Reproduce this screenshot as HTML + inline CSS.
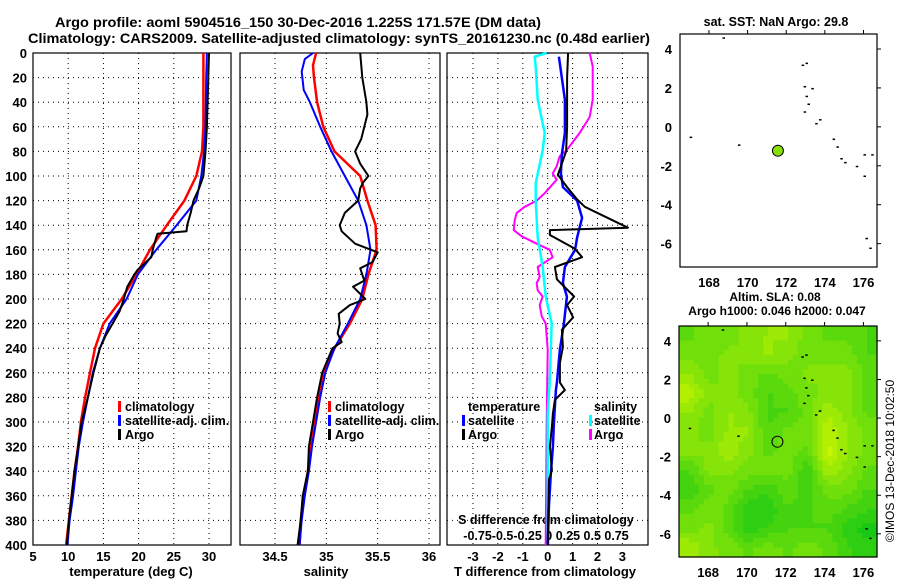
<!DOCTYPE html>
<html><head><meta charset="utf-8"><style>
html,body{margin:0;padding:0;background:#fff;}
svg{display:block;font-family:"Liberation Sans",sans-serif;font-weight:bold;}
</style></head><body>
<svg id="fig" width="900" height="580" viewBox="0 0 900 580" xmlns="http://www.w3.org/2000/svg">
<rect width="900" height="580" fill="#fff"/>
<text x="298" y="27" font-size="14" text-anchor="middle" textLength="486" lengthAdjust="spacingAndGlyphs">Argo profile: aoml 5904516_150 30-Dec-2016 1.225S 171.57E (DM data)</text>
<text x="339" y="43" font-size="14" text-anchor="middle" textLength="622" lengthAdjust="spacingAndGlyphs">Climatology: CARS2009. Satellite-adjusted climatology: synTS_20161230.nc (0.48d earlier)</text>
<g id="g1"></g>
<g id="g2"></g>
<g id="g3"></g>
<g id="m1"></g>
<g id="m2"></g>
<text x="776" y="26" font-size="12.5" text-anchor="middle">sat. SST: NaN Argo: 29.8</text>
<text x="775" y="301" font-size="12" text-anchor="middle">Altim. SLA: 0.08</text>
<text x="777" y="315" font-size="12" text-anchor="middle">Argo h1000: 0.046 h2000: 0.047</text>
<text transform="translate(894,461) rotate(-90)" font-size="12" font-weight="normal" text-anchor="middle">©IMOS 13-Dec-2018 10:02:50</text>
</svg>
<script>
// ---------- data ----------
const depthT = [0,20,60,80,100,110,120,130,140,145,147,150,160,166,176,180,190,200,210,220,230,240,260,280,300,320,340,360,380,400];
const argoT  = [30.0,29.9,29.7,29.5,29.2,28.6,27.8,27.4,26.9,26.8,22.7,22.5,22.0,21.8,19.9,19.4,18.4,17.9,17.3,16.3,15.3,14.5,13.6,12.8,11.9,11.4,10.9,10.5,10.1,9.8];
const depthC = [0,20,60,80,100,120,140,160,180,200,220,240,260,280,300,320,340,360,380,400];
const climT  = [29.2,29.2,29.2,29.0,28.2,26.5,24.0,21.6,19.7,17.6,15.0,13.8,13.1,12.4,11.8,11.4,10.9,10.5,10.1,9.7];
const satT   = [29.7,29.6,29.5,29.3,28.9,28.2,25.4,22.5,19.9,18.3,15.9,14.5,13.5,12.8,12.1,11.5,11.1,10.7,10.2,9.9];

const depthAS = [0,20,40,50,60,70,80,90,100,105,110,120,130,140,145,155,162,170,175,185,190,200,205,212,220,228,235,240,260,280,300,320,340,360,380,400];
const argoS   = [35.33,35.35,35.39,35.40,35.37,35.34,35.28,35.33,35.41,35.36,35.33,35.31,35.18,35.13,35.15,35.28,35.50,35.45,35.33,35.37,35.26,35.38,35.23,35.12,35.13,35.11,35.15,35.06,34.96,34.91,34.87,34.83,34.82,34.77,34.75,34.72];
const depthCS = [0,10,20,40,60,80,100,120,140,160,180,200,220,240,260,280,300,320,340,360,380,400];
const climS   = [34.90,34.87,34.88,34.91,34.97,35.08,35.33,35.40,35.48,35.49,35.41,35.35,35.23,35.08,34.97,34.92,34.89,34.85,34.82,34.78,34.75,34.74];
const depthSS = [0,5,15,30,40,60,80,100,120,140,160,180,200,220,240,260,280,300,320,340,360,380,400];
const satS    = [34.87,34.79,34.76,34.78,34.84,34.94,35.05,35.18,35.31,35.39,35.43,35.39,35.33,35.21,35.08,34.99,34.94,34.90,34.86,34.83,34.79,34.76,34.74];

const depthDT = [0,20,60,80,99,109,119,125,142,144,148,159,166,174,184,198,205,215,225,239,252,268,274,282,293,304,320,339,347,400];
const argoDT  = [0.82,0.78,0.78,0.74,0.41,0.78,1.18,1.49,3.22,0.09,0.09,1.09,1.38,0.29,0.37,1.06,0.78,1.02,0.57,0.61,0.49,0.49,0.69,0.29,0.21,0.17,0.09,0.17,0.05,0.0];
const depthST = [3,38,65,82,98,109,120,134,150,160,174,187,198,220,241,268,274,301,320,341,369,400];
const satDT   = [0.45,0.69,0.69,0.57,0.53,0.61,1.18,1.38,1.18,1.10,0.69,0.61,0.77,0.65,0.49,0.37,0.33,0.25,0.21,0.13,0.05,0.01];
const depthCY = [0,3,11,38,65,79,106,120,150,174,198,220,268,293,400];
const satDS   = [-0.01,-0.13,-0.12,-0.10,-0.03,-0.05,-0.12,-0.12,-0.10,-0.05,-0.02,0.04,0.02,0.0,0.0];
const depthMS = [0,11,38,52,65,79,84,92,98,103,114,120,125,130,136,144,149,155,160,166,174,182,187,193,198,205,214,220,241,300,400];
const argoDS  = [0.42,0.45,0.45,0.42,0.32,0.19,0.12,0.09,0.05,0.09,-0.03,-0.11,-0.23,-0.31,-0.33,-0.34,-0.26,-0.11,0.02,0.05,-0.10,-0.08,-0.11,-0.10,-0.05,-0.08,-0.06,-0.02,0.0,-0.01,-0.02];

const mapLat = -1.225, mapLon = 171.57;
const slaGrid = [
 [0.4,0.5,0.5,0.6,0.7,0.7,0.5,0.4,0.4,0.3],
 [0.5,0.5,0.6,0.6,0.7,0.6,0.5,0.5,0.5,0.3],
 [0.7,0.5,0.6,0.5,0.4,0.5,0.6,0.6,0.6,0.4],
 [0.9,0.6,0.6,0.5,0.3,0.4,0.5,0.6,0.6,0.4],
 [0.7,0.5,0.7,0.6,0.3,0.3,0.5,0.8,0.6,0.4],
 [0.6,0.5,0.7,0.7,0.3,0.5,0.5,0.9,0.7,0.5],
 [0.6,0.6,0.8,0.6,0.4,0.5,0.4,1.0,0.7,0.5],
 [0.3,0.6,0.6,0.5,0.5,0.5,0.2,0.8,0.6,0.4],
 [0.2,0.4,0.5,0.3,0.2,0.4,0.2,0.5,0.5,0.3],
 [0.4,0.5,0.4,0.1,0.1,0.3,0.3,0.4,0.3,0.2],
 [0.5,0.6,0.4,0.1,0.2,0.3,0.3,0.3,0.1,0.0],
 [0.8,0.6,0.5,0.4,0.5,0.4,0.5,0.4,0.2,0.1]];
const depthTicks = [0,20,40,60,80,100,120,140,160,180,200,220,240,260,280,300,320,340,360,380,400];
const tTicks = [5,10,15,20,25,30];
const sTicks = [34.5,35,35.5,36];
const dTTicks = [-3,-2,-1,0,1,2,3];
const lonTicks = [168,170,172,174,176];
const latTicks = [4,2,0,-2,-4,-6];

// ---------- helpers ----------
const NS="http://www.w3.org/2000/svg";
function mk(parent,tag,attrs,txt){const e=document.createElementNS(NS,tag);for(const k in attrs)e.setAttribute(k,attrs[k]);if(txt!==undefined)e.textContent=txt;parent.appendChild(e);return e;}
const Y0=53,Y1=545;
const yD=d=>Y0+(d/400)*(Y1-Y0);
function lin(d0,d1,r0,r1){return v=>r0+(v-d0)/(d1-d0)*(r1-r0);}
const xT=lin(5,30,33,209);
const xS=lin(34.5,36,275,429);
const xDT=lin(0,3,547.7,622.4);
const xDS=v=>547.7+v*100;

function frame(g,x0,x1,xs,ticks,ylabels){
  depthTicks.forEach(d=>{ if(d>0&&d<400){const l=mk(g,'line',{x1:x0,x2:x1,y1:yD(d),y2:yD(d),stroke:'#000','stroke-width':1,'stroke-dasharray':'1 4'});
  }
  if(ylabels){const t=mk(g,'text',{x:x0-6,y:yD(d)+5,'font-size':13,'text-anchor':'end'},String(d));
  }});
  ticks.forEach(v=>{const X=xs(v);if(X>x0+1&&X<x1-1){const l=mk(g,'line',{x1:X,x2:X,y1:Y0,y2:Y1,stroke:'#000','stroke-width':1,'stroke-dasharray':'1 4'});
  }});
  const r=mk(g,'rect',{x:x0,y:Y0,width:x1-x0,height:Y1-Y0,fill:'none',stroke:'#000','stroke-width':1.2});
  
}
function line(g,depths,vals,xs,color,w,name){
  const pts=depths.map((d,i)=>xs(vals[i]).toFixed(1)+','+yD(d).toFixed(1)).join(' ');
  const p=mk(g,'polyline',{points:pts,fill:'none',stroke:color,'stroke-width':w,'stroke-linejoin':'round'});
  
}
function label(g,x,y,txt,size,anchor,name){const t=mk(g,'text',{x:x,y:y,'font-size':size,'text-anchor':anchor||'middle'},txt);
  return t;}
function legendBar(g,x,y,color,name){const r=mk(g,'rect',{x:x,y:y-10,width:3,height:11,fill:color});
  }

// ---------- panel 1 ----------
const g1=document.getElementById('g1');
frame(g1,33,231,xT,tTicks,true);
tTicks.forEach(v=>label(g1,xT(v),561,String(v),13,'middle','temperature-tick-label'));
label(g1,131,576,'temperature (deg C)',13,'middle','temperature-axis-title');
line(g1,depthC,climT,xT,'#f00',2.5,'climatology-temperature-line');
line(g1,depthC,satT,xT,'#00f',2,'satellite-temperature-line');
line(g1,depthT,argoT,xT,'#000',2,'argo-temperature-line');
legendBar(g1,118,411,'#f00','legend-climatology-swatch');label(g1,125,411,'climatology',12.5,'start','legend-climatology');
legendBar(g1,118,425,'#00f','legend-satellite-swatch');label(g1,125,425,'satellite-adj. clim.',12.5,'start','legend-satellite');
legendBar(g1,118,439,'#000','legend-argo-swatch');label(g1,125,439,'Argo',12.5,'start','legend-argo');

// ---------- panel 2 ----------
const g2=document.getElementById('g2');
frame(g2,240,440,xS,sTicks,false);
sTicks.forEach(v=>label(g2,xS(v),561,String(v),13,'middle','salinity-tick-label'));
label(g2,326,576,'salinity',13,'middle','salinity-axis-title');
line(g2,depthCS,climS,xS,'#f00',2.5,'climatology-salinity-line');
line(g2,depthSS,satS,xS,'#00f',2,'satellite-salinity-line');
line(g2,depthAS,argoS,xS,'#000',2,'argo-salinity-line');
legendBar(g2,328,411,'#f00','legend-climatology-swatch');label(g2,335,411,'climatology',12.5,'start','legend-climatology');
legendBar(g2,328,425,'#00f','legend-satellite-swatch');label(g2,335,425,'satellite-adj. clim.',12.5,'start','legend-satellite');
legendBar(g2,328,439,'#000','legend-argo-swatch');label(g2,335,439,'Argo',12.5,'start','legend-argo');

// ---------- panel 3 ----------
const g3=document.getElementById('g3');
frame(g3,447,648,xDT,dTTicks,false);
dTTicks.forEach(v=>label(g3,xDT(v),561,String(v),13,'middle','t-diff-tick-label'));
label(g3,545,576,'T difference from climatology',13,'middle','t-diff-axis-title');
label(g3,546,524,'S difference from climatology',12.5,'middle','s-diff-axis-title');
label(g3,546,540,'-0.75-0.5-0.25 0  0.25 0.5 0.75',12.5,'middle','s-diff-tick-labels');
line(g3,depthMS,argoDS,xDS,'#f0f',2,'argo-salinity-diff-line');
line(g3,depthCY,satDS,xDS,'#0ff',2.5,'satellite-salinity-diff-line');
line(g3,depthST,satDT,xDT,'#00f',2.5,'satellite-temperature-diff-line');
line(g3,depthDT,argoDT,xDT,'#000',2,'argo-temperature-diff-line');
label(g3,468,411,'temperature',12.5,'start','legend-temperature-heading');
legendBar(g3,462,425,'#00f','legend-t-satellite-swatch');label(g3,468,425,'satellite',12.5,'start','legend-t-satellite');
legendBar(g3,462,439,'#000','legend-t-argo-swatch');label(g3,468,439,'Argo',12.5,'start','legend-t-argo');
label(g3,594,411,'salinity',12.5,'start','legend-salinity-heading');
legendBar(g3,589,425,'#0ff','legend-s-satellite-swatch');label(g3,594,425,'satellite',12.5,'start','legend-s-satellite');
legendBar(g3,589,439,'#f0f','legend-s-argo-swatch');label(g3,594,439,'Argo',12.5,'start','legend-s-argo');

// ---------- maps ----------
const LON0=166.5,LON1=176.7,LAT0=4.77,LAT1=-7.2;
const coast=[[168.7,4.6],[172.8,3.2],[173.0,3.3],[172.9,2.1],[173.0,1.6],[173.1,1.2],[173.3,2.0],[172.9,0.8],[173.5,0.2],[173.7,0.4],[167.0,-0.5],[169.5,-0.9],[174.4,-0.6],[174.6,-1.0],[174.8,-1.6],[175.0,-1.8],[175.6,-2.0],[176.0,-2.5],[176.0,-1.4],[176.4,-1.4],[176.1,-5.7],[176.3,-6.2]];
function sample(fy,fx){
  const nr=slaGrid.length,nc=slaGrid[0].length;
  fy=Math.max(0,Math.min(nr-1,fy));fx=Math.max(0,Math.min(nc-1,fx));
  const i=Math.floor(fy),j=Math.floor(fx),i2=Math.min(nr-1,i+1),j2=Math.min(nc-1,j+1),a=fy-i,b=fx-j;
  return slaGrid[i][j]*(1-a)*(1-b)+slaGrid[i][j2]*(1-a)*b+slaGrid[i2][j]*a*(1-b)+slaGrid[i2][j2]*a*b;
}
function map(id,x0,x1,y0,y1,heat){
  const g=document.getElementById(id);
  const xm=lin(LON0,LON1,x0,x1), ym=lin(LAT0,LAT1,y0,y1);
  if(heat){
    const nr=slaGrid.length,nc=slaGrid[0].length,S=4,NR=nr*S,NC=nc*S,cw=(x1-x0)/NC,ch=(y1-y0)/NR;
    for(let i=0;i<NR;i++)for(let j=0;j<NC;j++){
      let v=sample((i+0.5)/S-0.5,(j+0.5)/S-0.5);
      v=Math.round(v*8)/8;
      const r=Math.round(24+v*(200-24)),gg=Math.round(200+v*(245-200)),b=Math.round(20-v*20);
      const c=mk(g,'rect',{x:(x0+j*cw).toFixed(2),y:(y0+i*ch).toFixed(2),width:(cw+0.6).toFixed(2),height:(ch+0.6).toFixed(2),fill:`rgb(${r},${gg},${b})`});
      
    }
  }
  coast.forEach(p=>{const c=mk(g,'rect',{x:xm(p[0]),y:ym(p[1]),width:2.5,height:1.5,fill:'#000'});
    });
  const fr=mk(g,'rect',{x:x0,y:y0,width:x1-x0,height:y1-y0,fill:'none',stroke:'#000','stroke-width':1.2});
  
  lonTicks.forEach(v=>{mk(g,'line',{x1:xm(v),x2:xm(v),y1:y0,y2:y0-4,stroke:'#000'});
    label(g,xm(v),y1+20,String(v),13,'middle','longitude-tick-label');});
  latTicks.forEach(v=>{mk(g,'line',{x1:x1,x2:x1+4,y1:ym(v),y2:ym(v),stroke:'#000'});
    label(g,x0-8,ym(v)+5,String(v),13,'end','latitude-tick-label');});
  const dot=mk(g,'circle',{cx:xm(mapLon),cy:ym(mapLat),r:5.5,fill:heat?'none':'#88e000',stroke:'#000','stroke-width':1});
  
}
map('m1',680,877,34,267,false);
map('m2',679,877,326,557,true);
</script>
</body></html>
